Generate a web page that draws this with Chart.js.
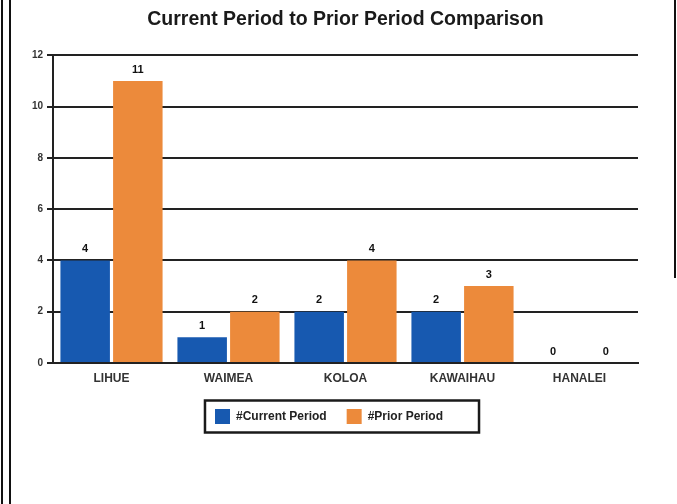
<!DOCTYPE html>
<html>
<head>
<meta charset="utf-8">
<script src="https://cdn.jsdelivr.net/npm/chart.js@4.4.0/dist/chart.umd.min.js"></script>
<style>
  html, body { margin: 0; padding: 0; background: #fff; }
  #wrap { position: relative; width: 677px; height: 504px; }
  #orderChart { position: absolute; left: 0; top: 0; }
  .edge { position: absolute; background: #111; width: 2px; }
</style>
</head>
<body>
<div id="wrap">
  <canvas id="orderChart" width="677" height="504"></canvas>
  <div class="edge" style="left:1px;top:0;height:504px;"></div>
  <div class="edge" style="left:9px;top:0;height:504px;"></div>
  <div class="edge" style="left:674px;top:0;height:278px;"></div>
</div>
<script>
// chart data
const areas = ['LIHUE', 'WAIMEA', 'KOLOA', 'KAWAIHAU', 'HANALEI'];
const currentPeriod = [4, 1, 2, 2, 0];
const priorPeriod = [11, 2, 4, 3, 0];
const yTicks = [0, 2, 4, 6, 8, 10, 12];

const gridColor = '#222';
const fontFamily = '"Liberation Sans", Arial, sans-serif';

// draws the value above each bar
const barValues = {
    id: 'barValues',
    afterDatasetsDraw(chart) {
        const ctx = chart.ctx;
        ctx.save();
        ctx.fillStyle = '#111';
        ctx.font = 'bold 11px ' + fontFamily;
        ctx.textAlign = 'center';
        ctx.textBaseline = 'bottom';
        chart.data.datasets.forEach(function (ds, i) {
            chart.getDatasetMeta(i).data.forEach(function (bar, j) {
                ctx.fillText(String(ds.data[j]), bar.x, bar.y - 6);
            });
        });
        ctx.restore();
    }
};

// box round the legend
const legendBox = {
    id: 'legendBox',
    afterDraw(chart) {
        const boxes = chart.legend.legendHitBoxes;
        if (!boxes || !boxes.length) return;
        let l = Infinity, r = -Infinity, t = Infinity, b = -Infinity;
        boxes.forEach(function (h) {
            l = Math.min(l, h.left); r = Math.max(r, h.left + h.width);
            t = Math.min(t, h.top); b = Math.max(b, h.top + h.height);
        });
        const cy = (t + b) / 2;
        const ctx = chart.ctx;
        ctx.save();
        ctx.strokeStyle = '#1a1a1a';
        ctx.lineWidth = 2.5;
        ctx.strokeRect(l - 10, cy - 16, (r - l) + 46, 32);
        ctx.restore();
    }
};

let ctx = document.getElementById('orderChart').getContext('2d');
window.orderChart = new Chart(ctx, {
    type: 'bar',
    data: {
        labels: areas,
        datasets: [{
            label: '#Current Period',
            data: currentPeriod,
            backgroundColor: '#1759b0',
            categoryPercentage: 0.9,
            barPercentage: 0.94
        }, {
            label: '#Prior Period',
            data: priorPeriod,
            backgroundColor: '#ec8a3b',
            categoryPercentage: 0.9,
            barPercentage: 0.94
        }]
    },
    options: {
        responsive: false,
        animation: false,
        layout: { padding: { left: 20, right: 39, top: 6, bottom: 70 } },
        plugins: {
            title: {
                display: true,
                fullSize: false,
                text: 'Current Period to Prior Period Comparison',
                color: '#1a1a1a',
                font: { family: fontFamily, size: 19.5, weight: 'bold' },
                padding: { top: 2, bottom: 24 }
            },
            legend: {
                position: 'bottom',
                labels: {
                    boxWidth: 15,
                    boxHeight: 15,
                    padding: 20,
                    color: '#222',
                    font: { family: fontFamily, size: 12, weight: 'bold' }
                }
            },
            tooltip: { enabled: false }
        },
        scales: {
            y: {
                min: 0,
                max: 12,
                afterBuildTicks(axis) {
                    axis.ticks = yTicks.map(function (v) { return { value: v }; });
                },
                afterFit(axis) { axis.width = 33; },
                grid: { color: gridColor, lineWidth: 2, tickLength: 6 },
                border: { color: gridColor, width: 2 },
                ticks: {
                    color: '#333',
                    padding: 4,
                    font: { family: fontFamily, size: 10, weight: 'bold' }
                }
            },
            x: {
                afterFit(axis) { axis.height = 26; },
                grid: {
                    offset: true,
                    lineWidth: 2,
                    drawTicks: false,
                    color: function (c) { return c.index === areas.length ? gridColor : 'rgba(0,0,0,0)'; }
                },
                border: { color: gridColor, width: 2 },
                ticks: {
                    color: '#333',
                    padding: 8,
                    font: { family: fontFamily, size: 12, weight: 'bold' }
                }
            }
        }
    },
    plugins: [barValues, legendBox]
});
</script>
</body>
</html>
